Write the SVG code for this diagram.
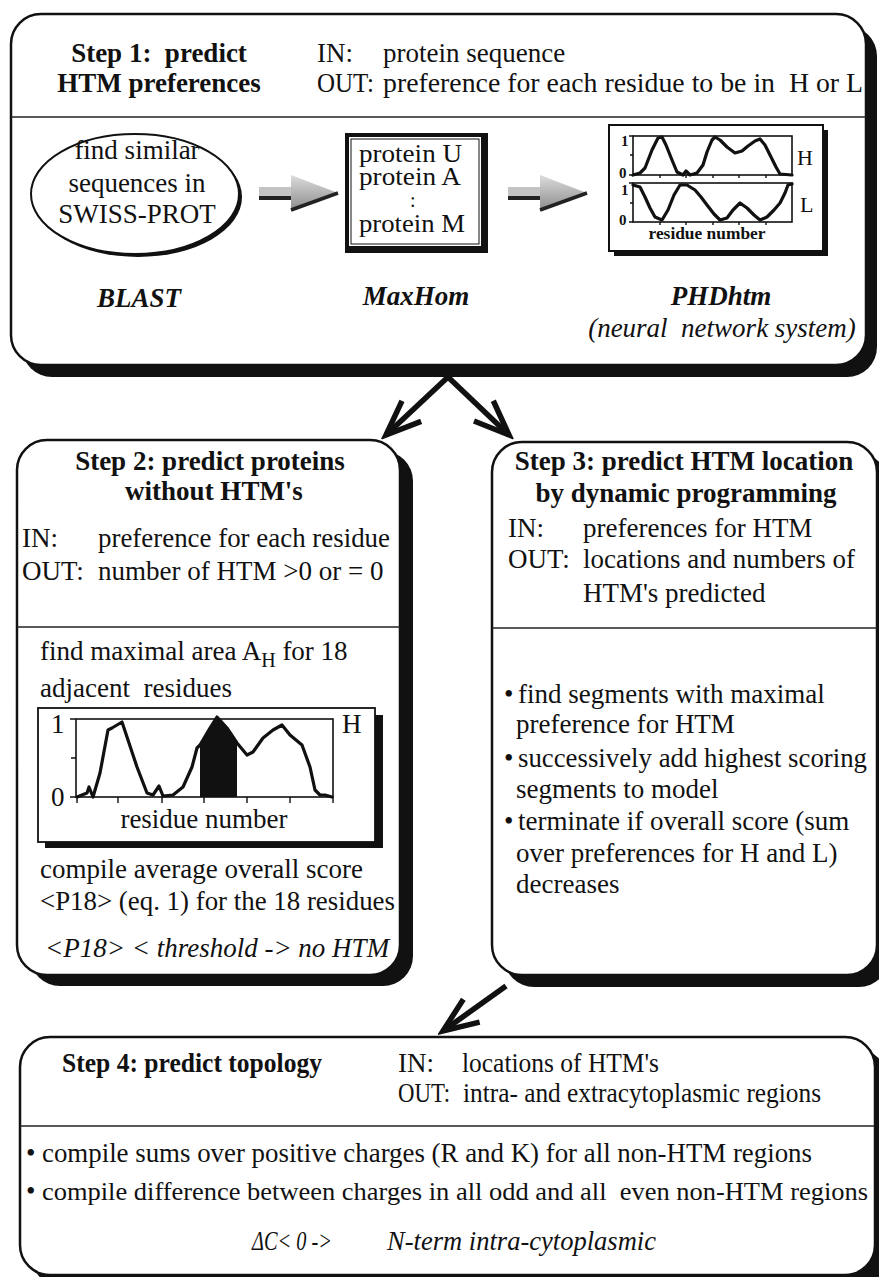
<svg xmlns="http://www.w3.org/2000/svg" width="879" height="1277" viewBox="0 0 879 1277">
  <style>
    .t { font-family: "Liberation Serif", "Times New Roman", serif; font-size: 27px; fill: #111; }
    .b { font-weight: bold; }
    .i { font-style: italic; }
    .m { text-anchor: middle; }
    .pre { white-space: pre; }
    .box { fill: #fff; stroke: #111; stroke-width: 2.5; }
    .shadow { fill: #111; }
    .div { stroke: #222; stroke-width: 1.6; }
    .frame { fill: none; stroke: #111; stroke-width: 1.6; }
    .curve { fill: none; stroke: #111; stroke-width: 3.2; stroke-linejoin: round; stroke-linecap: round; }
    .tick { stroke: #111; stroke-width: 1.4; }
    .conn { fill: none; stroke: #111; stroke-width: 5.5; marker-end: url(#openHead); }
    .small { font-size: 17px; font-weight: bold; }
    .axis { font-size: 15px; font-weight: bold; }
    .prot { font-size: 25px; }
  </style>
  <defs>
    <marker id="openHead" markerUnits="userSpaceOnUse" viewBox="-44 -22 50 44" markerWidth="50" markerHeight="44" refX="0" refY="0" orient="auto">
      <path d="M-35,-14 L0,0 L-35,14" fill="none" stroke="#111" stroke-width="5.5" stroke-linejoin="miter"/>
    </marker>
    <linearGradient id="grayFill" x1="0" y1="0" x2="0" y2="1">
      <stop offset="0" stop-color="#dcdcdc"/>
      <stop offset="1" stop-color="#8e8e8e"/>
    </linearGradient>
    <!-- block arrow used between the Step 1 tools -->
    <g id="grayArrow">
      <rect x="0" y="-6" width="33" height="10" fill="#c4c4c4"/>
      <rect x="0" y="3" width="33" height="4" fill="#222"/>
      <polygon points="32,-18 79,0 32,17" fill="url(#grayFill)"/>
      <line x1="32" y1="17" x2="79" y2="0" stroke="#222" stroke-width="3.5"/>
    </g>
  </defs>

  <rect width="879" height="1277" fill="#fff"/>

  <!-- Step 1 -->
  <g id="step1">
    <rect class="shadow" x="22" y="26" width="855" height="351" rx="30"/>
    <rect class="box" x="11" y="14" width="855" height="351" rx="30"/>
    <line class="div" x1="11" y1="117" x2="866" y2="117"/>
    <text class="t b m pre" x="159" y="62">Step 1:  predict</text>
    <text class="t b m" x="159" y="92">HTM preferences</text>
    <text class="t" x="317" y="62">IN:</text>
    <text class="t" x="383" y="62">protein sequence</text>
    <text class="t" x="317" y="92" textLength="57" lengthAdjust="spacingAndGlyphs">OUT:</text>
    <text class="t pre" x="383" y="92" textLength="480" lengthAdjust="spacingAndGlyphs">preference for each residue to be in  H or L</text>

    <!-- BLAST -->
    <g id="blast">
      <ellipse cx="138" cy="197" rx="104" ry="60" fill="#111"/>
      <ellipse cx="135" cy="194" rx="104" ry="60" fill="#fff" stroke="#111" stroke-width="2"/>
      <text class="t m" x="137" y="159">find similar</text>
      <text class="t m" x="137" y="192">sequences in</text>
      <text class="t m" x="137" y="223">SWISS-PROT</text>
      <text class="t b i m" x="139" y="307">BLAST</text>
    </g>

    <use href="#grayArrow" x="259" y="193"/>

    <!-- MaxHom -->
    <g id="maxhom">
      <rect x="345" y="133" width="143" height="120" fill="#111"/>
      <rect x="349" y="137" width="132" height="109" fill="#fff"/>
      <rect x="351" y="139" width="128" height="105" fill="none" stroke="#111" stroke-width="1"/>
      <text class="t prot" x="359" y="162" textLength="103" lengthAdjust="spacingAndGlyphs">protein U</text>
      <text class="t prot" x="359" y="185" textLength="102" lengthAdjust="spacingAndGlyphs">protein A</text>
      <text class="t" x="410" y="207" style="font-size:20px">:</text>
      <text class="t prot" x="359" y="232" textLength="106" lengthAdjust="spacingAndGlyphs">protein M</text>
      <text class="t b i m" x="416" y="305">MaxHom</text>
    </g>

    <use href="#grayArrow" x="508" y="193"/>

    <!-- PHDhtm -->
    <g id="phdhtm">
      <rect class="shadow" x="614" y="130" width="214" height="126"/>
      <rect x="609" y="125" width="214" height="126" fill="#fff" stroke="#111" stroke-width="2"/>
      <rect class="frame" x="633" y="136" width="159" height="39"/>
      <rect class="frame" x="633" y="183" width="159" height="39"/>
      <path class="tick" d="M629,136H633M630,155H633M629,175H633M629,183H633M630,203H633M629,222H633
        M660,175v3M686,175v3M713,175v3M739,175v3M766,175v3
        M660,222v3M686,222v3M713,222v3M739,222v3M766,222v3"/>
      <text class="t axis" x="621" y="146">1</text>
      <text class="t axis" x="619" y="178">0</text>
      <text class="t axis" x="621" y="195">1</text>
      <text class="t axis" x="619" y="225">0</text>
      <text class="t" x="797" y="165" style="font-size:22px">H</text>
      <text class="t" x="800" y="212" style="font-size:22px">L</text>
      <path class="curve" d="M633,175 L640,173 L645,168 L652,150 L658,138 L662,137 L666,145 L672,160 L677,172 L683,175 L686,171 L690,175 L697,173 L703,165 L707,152 L712,140 L715,137 L720,140 L727,147 L735,153 L742,151 L748,146 L755,141 L760,139 L765,145 L770,155 L776,167 L780,174 L792,175"/>
      <path class="curve" d="M633,185 L640,187 L645,197 L650,208 L655,217 L662,220 L668,210 L674,195 L680,185 L687,185 L695,190 L701,197 L707,205 L714,214 L720,220 L727,218 L733,210 L740,203 L747,208 L754,215 L760,220 L767,217 L774,210 L780,203 L785,193 L788,185 L792,184"/>
      <text class="t small m" x="707" y="239" textLength="117" lengthAdjust="spacingAndGlyphs">residue number</text>
      <text class="t b i m" x="721" y="305">PHDhtm</text>
      <text class="t i m pre" x="722" y="337">(neural  network system)</text>
    </g>
  </g>

  <!-- Step 2 -->
  <g id="step2">
    <rect class="shadow" x="30" y="451" width="383" height="535" rx="30"/>
    <rect class="box" x="17" y="440" width="383" height="535" rx="30"/>
    <line class="div" x1="17" y1="627" x2="400" y2="627"/>
    <text class="t b m" x="210" y="470">Step 2: predict proteins</text>
    <text class="t b m" x="214" y="500">without HTM's</text>
    <text class="t" x="22" y="547">IN:</text>
    <text class="t" x="98" y="547" textLength="292" lengthAdjust="spacingAndGlyphs">preference for each residue</text>
    <text class="t" x="22" y="580">OUT:</text>
    <text class="t" x="98" y="580">number of HTM &gt;0 or = 0</text>
    <text class="t" x="40" y="660">find maximal area A<tspan dy="7" style="font-size:20px">H</tspan><tspan dy="-7"> for 18</tspan></text>
    <text class="t pre" x="40" y="697">adjacent  residues</text>

    <g id="areaPlot">
      <rect class="shadow" x="45" y="715" width="338" height="133"/>
      <rect x="38" y="708" width="337" height="134" fill="#fff" stroke="#111" stroke-width="1.8"/>
      <rect class="frame" x="76" y="719" width="257" height="78"/>
      <path class="tick" d="M70,719H76M71,758H76M70,797H76
        M77,797v6M118,797v6M162,797v6M204,797v6M247,797v6M290,797v6M333,797v6"/>
      <polygon points="200,797 200,745 210,728 217,716 227,728 237,743 237,797" fill="#111"/>
      <path class="curve" d="M77,797 L87,793 L89,787 L93,797 L100,773 L108,730 L112,728 L122,722 L128,740 L137,767 L147,793 L153,795 L159,786 L163,796 L173,795 L183,787 L192,767 L197,748 L200,745 L210,728 L217,717 L227,728 L237,743 L247,755 L253,752 L263,738 L273,730 L282,725 L290,735 L302,745 L310,767 L315,790 L320,795 L325,795 L332,797"/>
      <text class="t" x="51" y="733">1</text>
      <text class="t" x="51" y="806">0</text>
      <text class="t" x="342" y="733">H</text>
      <text class="t m" x="204" y="828">residue number</text>
    </g>

    <text class="t" x="40" y="878">compile average overall score</text>
    <text class="t" x="40" y="910" textLength="355" lengthAdjust="spacingAndGlyphs">&lt;P18&gt; (eq. 1) for the 18 residues</text>
    <text class="t i" x="45" y="957">&lt;P18&gt; &lt; threshold -&gt; no HTM</text>
  </g>

  <!-- Step 3 -->
  <g id="step3">
    <rect class="shadow" x="504" y="454" width="385" height="533" rx="30"/>
    <rect class="box" x="492" y="442" width="385" height="533" rx="30"/>
    <line class="div" x1="492" y1="628" x2="877" y2="628"/>
    <text class="t b m" x="684" y="470">Step 3: predict HTM location</text>
    <text class="t b m" x="686" y="502">by dynamic programming</text>
    <text class="t" x="508" y="537">IN:</text>
    <text class="t" x="583" y="537">preferences for HTM</text>
    <text class="t" x="508" y="568">OUT:</text>
    <text class="t" x="583" y="568" textLength="272" lengthAdjust="spacingAndGlyphs">locations and numbers of</text>
    <text class="t" x="583" y="602">HTM's predicted</text>
    <text class="t" x="504" y="703">•</text>
    <text class="t" x="518" y="703">find segments with maximal</text>
    <text class="t" x="516" y="733">preference for HTM</text>
    <text class="t" x="504" y="767">•</text>
    <text class="t" x="518" y="767" textLength="349" lengthAdjust="spacingAndGlyphs">successively add highest scoring</text>
    <text class="t" x="516" y="798">segments to model</text>
    <text class="t" x="504" y="830">•</text>
    <text class="t" x="518" y="830">terminate if overall score (sum</text>
    <text class="t" x="516" y="862">over preferences for H and L)</text>
    <text class="t" x="516" y="893">decreases</text>
  </g>

  <!-- Step 4 -->
  <g id="step4">
    <rect class="shadow" x="32" y="1049" width="855" height="238" rx="30"/>
    <rect class="box" x="20" y="1037" width="855" height="238" rx="30"/>
    <line class="div" x1="20" y1="1126" x2="875" y2="1126"/>
    <text class="t b" x="62" y="1072" textLength="260" lengthAdjust="spacingAndGlyphs">Step 4: predict topology</text>
    <text class="t" x="398" y="1072">IN:</text>
    <text class="t" x="462" y="1072" textLength="197" lengthAdjust="spacingAndGlyphs">locations of HTM's</text>
    <text class="t" x="398" y="1102" textLength="52" lengthAdjust="spacingAndGlyphs">OUT:</text>
    <text class="t" x="463" y="1102" textLength="358" lengthAdjust="spacingAndGlyphs">intra- and extracytoplasmic regions</text>
    <text class="t" x="26" y="1162">•</text>
    <text class="t" x="42" y="1162" textLength="770" lengthAdjust="spacingAndGlyphs">compile sums over positive charges (R and K) for all non-HTM regions</text>
    <text class="t" x="26" y="1200">•</text>
    <text class="t pre" x="42" y="1200" style="font-size:25px" textLength="826" lengthAdjust="spacingAndGlyphs">compile difference between charges in all odd and all  even non-HTM regions</text>
    <text class="t i" x="252" y="1250" textLength="80" lengthAdjust="spacingAndGlyphs">ΔC&lt; 0 -&gt;</text>
    <text class="t i" x="387" y="1250" textLength="269" lengthAdjust="spacingAndGlyphs">N-term intra-cytoplasmic</text>
  </g>

  <!-- flow between steps -->
  <g id="connectors">
    <path class="conn" d="M448,377 L386,435"/>
    <path class="conn" d="M448,377 L509,435"/>
    <path class="conn" d="M506,986 L443,1031"/>
  </g>
</svg>
